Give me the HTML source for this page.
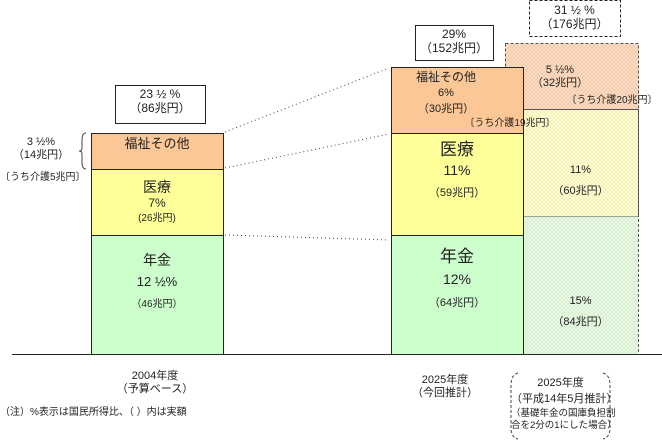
<!DOCTYPE html>
<html><head><meta charset="utf-8"><style>
body{margin:0;width:662px;height:440px;background:#fff;position:relative;overflow:hidden;font-family:"Liberation Sans","Noto Sans CJK JP",sans-serif;color:#222}
.a{position:absolute;box-sizing:border-box}
.t{position:absolute;text-align:center;white-space:nowrap;line-height:1.2}
</style></head><body>
<svg class="a" style="left:0;top:0" width="662" height="440">
<defs>
<pattern id="p1" width="4" height="4" patternUnits="userSpaceOnUse"><rect width="4" height="4" fill="#fbe3d0"/><path d="M0 0L4 4M4 0L0 4" stroke="#f5b98e" stroke-width="0.6"/></pattern>
<pattern id="p2" width="4" height="4" patternUnits="userSpaceOnUse"><rect width="4" height="4" fill="#fffde0"/><path d="M0 0L4 4M4 0L0 4" stroke="#f2ec9a" stroke-width="0.6"/></pattern>
<pattern id="p3" width="4" height="4" patternUnits="userSpaceOnUse"><rect width="4" height="4" fill="#eef9ea"/><path d="M0 0L4 4M4 0L0 4" stroke="#c9eac0" stroke-width="0.6"/></pattern>
</defs>
<rect x="505.5" y="43.5" width="133" height="66" fill="url(#p1)" stroke="#555" stroke-dasharray="3,2"/>
<rect x="523.5" y="109.5" width="115" height="107" fill="url(#p2)" stroke="#555"/>
<rect x="523.5" y="216.5" width="115" height="138" fill="url(#p3)"/>
<line x1="638.5" y1="109" x2="638.5" y2="354" stroke="#555" stroke-dasharray="3,2"/>
<rect x="91.5" y="133.5" width="132" height="36" fill="#fbc797" stroke="#222"/>
<rect x="91.5" y="169.5" width="132" height="66" fill="#ffff99" stroke="#222"/>
<rect x="91.5" y="235.5" width="132" height="119" fill="#ccffcc" stroke="#222"/>
<rect x="391.5" y="67.5" width="132" height="66" fill="#fbc797" stroke="#222"/>
<rect x="391.5" y="133.5" width="132" height="102" fill="#ffff99" stroke="#222"/>
<rect x="391.5" y="235.5" width="132" height="119" fill="#ccffcc" stroke="#222"/>
<line x1="12" y1="354.5" x2="662" y2="354.5" stroke="#222"/>
<g stroke="#444" stroke-dasharray="1,3"><line x1="225" y1="132" x2="389" y2="68"/><line x1="225" y1="168" x2="389" y2="134"/><line x1="225" y1="235" x2="389" y2="240"/></g>
<rect x="115.5" y="85.5" width="90" height="38" fill="#fff" stroke="#222"/>
<rect x="415.5" y="25.5" width="78" height="35" fill="#fff" stroke="#222"/>
<rect x="529.5" y="0.5" width="91" height="36" fill="#fff" stroke="#222" stroke-dasharray="3,2"/>
<path d="M86 133 Q82 133 82 140 L82 148 Q82 151 79 151 Q82 151 82 154 L82 162 Q82 169 86 169" fill="none" stroke="#444"/>
<path d="M518 373 Q511 375 511 385 L511 428 Q511 437 518 439 M603 373 Q610 375 610 385 L610 428 Q610 437 603 439" fill="none" stroke="#444" stroke-dasharray="3,2"/>
</svg>
<div class="t" style="left:115px;top:87px;width:90px;font-size:12px">23 ½ %<br>（86兆円）</div>
<div class="t" style="left:415px;top:27px;width:78px;font-size:12px">29%<br>（152兆円）</div>
<div class="t" style="left:529px;top:3px;width:91px;font-size:12px">31 ½ %<br>（176兆円）</div>
<div class="t" style="left:91px;top:136px;width:132px;font-size:13px">福祉その他</div>
<div class="t" style="left:91px;top:180px;width:132px;font-size:14px;line-height:1.05">医療<br><span style="font-size:12px">7%</span><br><span style="font-size:10px">(26兆円)</span></div>
<div class="t" style="left:91px;top:250px;width:132px;font-size:14px;line-height:1.5">年金<br><span style="font-size:13px">12 ½%</span><br><span style="font-size:10px">（46兆円）</span></div>
<div class="t" style="left:0;top:136px;width:82px;font-size:11px">3 ½%<br>（14兆円）</div>
<div class="t" style="left:0;top:172px;width:82px;font-size:10px">〔うち介護5兆円〕</div>
<div class="t" style="left:391px;top:70px;width:110px;font-size:12px;line-height:1.25">福祉その他<br><span style="font-size:11px">6%<br>（30兆円）</span></div>
<div class="t" style="left:455px;top:118px;width:110px;font-size:10px">〔うち介護19兆円〕</div>
<div class="t" style="left:391px;top:140px;width:132px;font-size:17px;line-height:1.2">医療<br><span style="font-size:14px">11%</span><br><span style="font-size:11px">（59兆円）</span></div>
<div class="t" style="left:391px;top:246px;width:132px;font-size:17px;line-height:1.3">年金<br><span style="font-size:14px">12%</span><br><span style="font-size:11px">（64兆円）</span></div>
<div class="t" style="left:505px;top:64px;width:110px;font-size:11px">5 ½%<br>（32兆円）</div>
<div class="t" style="left:562px;top:95px;width:100px;font-size:10px">〔うち介護20兆円〕</div>
<div class="t" style="left:523px;top:160px;width:115px;font-size:11px;line-height:1.9">11%<br>（60兆円）</div>
<div class="t" style="left:523px;top:291px;width:115px;font-size:11px;line-height:1.9">15%<br>（84兆円）</div>
<div class="t" style="left:100px;top:370px;width:110px;font-size:11px">2004年度<br>（予算ベース）</div>
<div class="t" style="left:0;top:407px;width:210px;font-size:10px;text-align:left">（注）%表示は国民所得比、（ ）内は実額</div>
<div class="t" style="left:400px;top:374px;width:90px;font-size:11px">2025年度<br>（今回推計）</div>
<div class="t" style="left:511px;top:376px;width:99px;font-size:11px;line-height:1.45">2025年度<br>（平成14年5月推計）</div>
<div class="t" style="left:511px;top:408px;width:99px;font-size:9.5px;line-height:1.3">（基礎年金の国庫負担割<br>合を2分の1にした場合）</div>
</body></html>
